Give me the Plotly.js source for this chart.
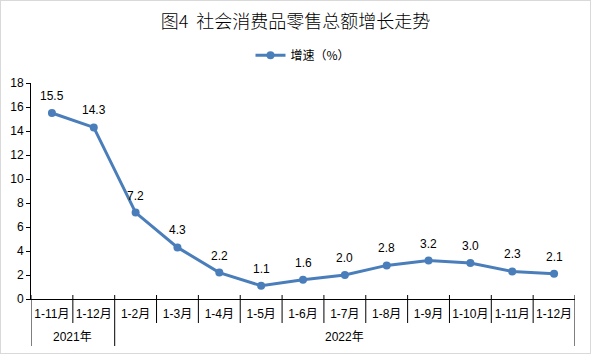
<!DOCTYPE html>
<html>
<head>
<meta charset="utf-8">
<script src="https://cdn.plot.ly/plotly-3.0.1.min.js"></script>
<style>
html,body{margin:0;padding:0;background:#fff;}
#frame{width:591px;height:354px;box-sizing:border-box;border:1px solid #d9d9d9;}
#chart{width:589px;height:352px;}
</style>
</head>
<body>
<div id="frame"><div id="chart"></div></div>
<script>
const years = ["2021年","2021年","2022年","2022年","2022年","2022年","2022年","2022年","2022年","2022年","2022年","2022年","2022年"];
const months = ["1-11月","1-12月","1-2月","1-3月","1-4月","1-5月","1-6月","1-7月","1-8月","1-9月","1-10月","1-11月","1-12月"];
const growth = [15.5, 14.3, 7.2, 4.3, 2.2, 1.1, 1.6, 2.0, 2.8, 3.2, 3.0, 2.3, 2.1];
const seriesName = "增速（%）";
const titleText = "图4  社会消费品零售总额增长走势";

const cjk = "'Noto Sans CJK SC', sans-serif";
const font = "'Liberation Sans', 'Noto Sans CJK SC', sans-serif";
const blue = "#4a7ebb";
const idx = months.map((_, i) => i);

const trace = {
  type: "scatter",
  mode: "lines+markers",
  name: seriesName,
  x: idx,
  y: growth,
  line: {color: blue, width: 3},
  marker: {color: blue, size: 8, symbol: "circle"},
  cliponaxis: false,
  hoverinfo: "skip"
};

// value labels above each point
const annotations = growth.map((v, i) => ({
  x: idx[i], y: v, xref: "x", yref: "y",
  text: v.toFixed(1), showarrow: false,
  yshift: 17, yanchor: "middle",
  font: {family: font, size: 12, color: "#000"}
}));

// group (year) labels centred under their categories
const groups = [];
years.forEach((y, i) => {
  if (!groups.length || groups[groups.length - 1].name !== y) groups.push({name: y, start: i, end: i});
  else groups[groups.length - 1].end = i;
});
groups.forEach(g => annotations.push({
  x: (g.start + g.end) / 2, y: 0, xref: "x", yref: "paper",
  text: g.name, showarrow: false, yshift: -38, yanchor: "middle",
  font: {family: font, size: 12, color: "#000"}
}));

// category boundary lines (short) and group dividers (long)
const shapes = [];
for (let i = 0; i <= months.length; i++) {
  const isGroupEdge = i === 0 || i === months.length || years[i] !== years[i - 1];
  shapes.push({
    type: "line", xref: "x", yref: "paper",
    x0: i - 0.5, x1: i - 0.5,
    ysizemode: "pixel", yanchor: 0,
    y0: 4, y1: isGroupEdge ? -47 : -24,
    line: {color: "#000", width: 1}
  });
}

const layout = {
  width: 589, height: 352,
  margin: {l: 30, r: 15, t: 82, b: 54},
  paper_bgcolor: "#fff",
  plot_bgcolor: "#fff",
  font: {family: font, size: 11, color: "#000"},
  title: {
    text: titleText,
    font: {family: cjk, size: 18, color: "#000", weight: 300},
    x: 0.5, xanchor: "center",
    y: 0.94, yanchor: "middle"
  },
  showlegend: true,
  legend: {
    orientation: "h",
    x: 0.5, xanchor: "center",
    y: 1.128, yanchor: "middle",
    font: {family: cjk, size: 12, color: "#000"},
    bgcolor: "rgba(0,0,0,0)"
  },
  xaxis: {
    range: [-0.5, months.length - 0.5],
    tickmode: "array", tickvals: idx, ticktext: months,
    showline: true, linecolor: "#000", linewidth: 1,
    ticks: "", ticklabelstandoff: 4,
    showgrid: false, zeroline: false,
    tickfont: {family: font, size: 12, color: "#000"}
  },
  yaxis: {
    range: [0, 18], dtick: 2,
    showline: true, linecolor: "#000", linewidth: 1,
    ticks: "outside", ticklen: 4, tickcolor: "#000",
    showgrid: false, zeroline: false,
    tickfont: {family: font, size: 12, color: "#000"}
  },
  annotations: annotations,
  shapes: shapes
};

Plotly.newPlot("chart", [trace], layout, {displayModeBar: false, staticPlot: true});
</script>
</body>
</html>
